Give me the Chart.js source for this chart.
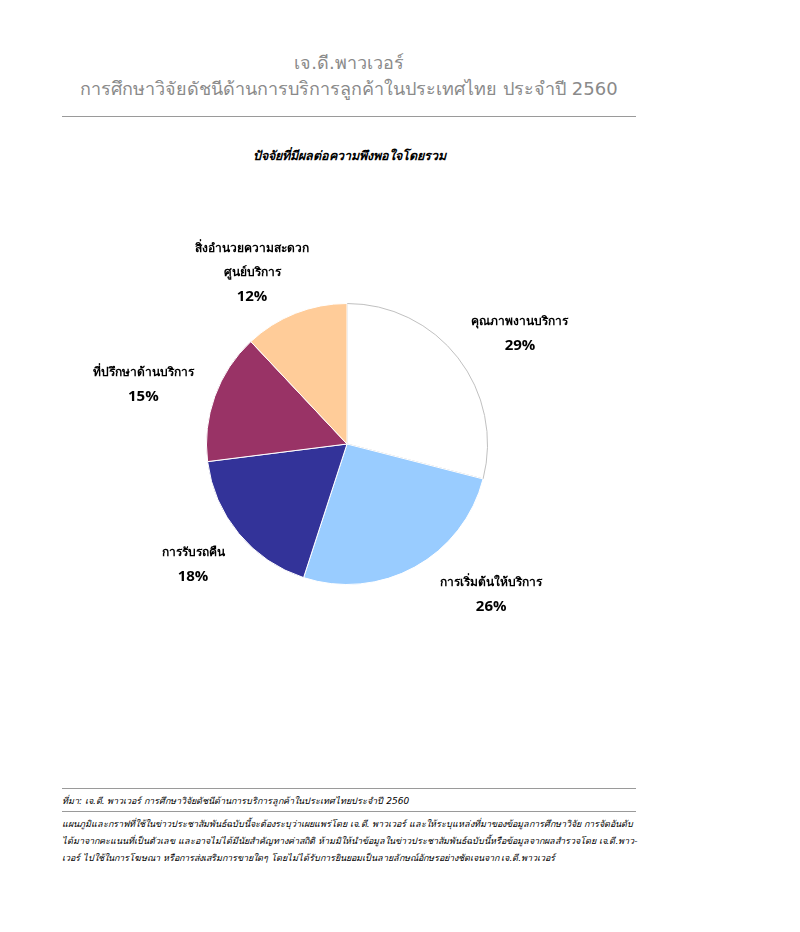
<!DOCTYPE html>
<html>
<head>
<meta charset="utf-8">
<script src="https://cdn.jsdelivr.net/npm/chart.js@4"></script>
<style>
  body { margin: 0; background: #fff; font-family: "DejaVu Sans", "Noto Sans", sans-serif; }
  #page { position: relative; width: 800px; height: 932px; }
  .title { position: absolute; left: 62px; width: 574px; text-align: center; color: #8a8a8a; font-size: 18px; }
  .rule { position: absolute; left: 62px; width: 574px; height: 0; border-top: 1px solid #9a9a9a; }
  #sub { position: absolute; left: 62px; width: 574px; top: 146px; text-align: center; font-size: 12.5px; font-weight: bold; font-style: italic; }
  .note { position: absolute; left: 62px; width: 574px; font-size: 9px; font-style: italic; color: #000; white-space: nowrap; }
  #wrap { position: absolute; left: 0; top: 180px; width: 700px; height: 530px; }
</style>
</head>
<body>
<div id="page">
  <div class="title" style="top:48px">เจ.ดี.พาวเวอร์</div>
  <div class="title" style="top:74px">การศึกษาวิจัยดัชนีด้านการบริการลูกค้าในประเทศไทย ประจำปี 2560</div>
  <div class="rule" style="top:116px"></div>
  <div id="sub">ปัจจัยที่มีผลต่อความพึงพอใจโดยรวม</div>
  <div id="wrap"><canvas id="pieChart"></canvas></div>
  <div class="rule" style="top:788px"></div>
  <div class="note" style="top:794px">ที่มา: เจ.ดี. พาวเวอร์ การศึกษาวิจัยดัชนีด้านการบริการลูกค้าในประเทศไทยประจำปี 2560</div>
  <div class="rule" style="top:811px"></div>
  <div class="note" style="top:817px">แผนภูมิและกราฟที่ใช้ในข่าวประชาสัมพันธ์ฉบับนี้จะต้องระบุว่าเผยแพร่โดย เจ.ดี. พาวเวอร์ และให้ระบุแหล่งที่มาของข้อมูลการศึกษาวิจัย การจัดอันดับ</div>
  <div class="note" style="top:834px">ได้มาจากคะแนนที่เป็นตัวเลข และอาจไม่ได้มีนัยสำคัญทางค่าสถิติ ห้ามมิให้นำข้อมูลในข่าวประชาสัมพันธ์ฉบับนี้หรือข้อมูลจากผลสำรวจโดย เจ.ดี.พาว-</div>
  <div class="note" style="top:851px">เวอร์ ไปใช้ในการโฆษณา หรือการส่งเสริมการขายใดๆ โดยไม่ได้รับการยินยอมเป็นลายลักษณ์อักษรอย่างชัดเจนจาก เจ.ดี.พาวเวอร์</div>
</div>
<script>
// factors (clockwise from top)
const labels = [
    ['คุณภาพงานบริการ'],
    ['การเริ่มต้นให้บริการ'],
    ['การรับรถคืน'],
    ['ที่ปรึกษาด้านบริการ'],
    ['สิ่งอำนวยความสะดวก', 'ศูนย์บริการ']
];
const values = [29, 26, 18, 15, 12];
const colors = ['#ffffff', '#99ccff', '#333399', '#993366', '#ffcc99'];

// small pixel nudges for the label blocks, like excel's best fit
const nudge = [[12, 15], [46, -28], [3, -9], [-12, 10], [-20, 18]];

const outsideLabels = {
    id: 'outsideLabels',
    afterDraw(chart) {
        const ctx = chart.ctx;
        const meta = chart.getDatasetMeta(0);
        ctx.save();
        ctx.textAlign = 'center';
        ctx.textBaseline = 'middle';
        ctx.fillStyle = '#000';
        meta.data.forEach((arc, i) => {
            const mid = (arc.startAngle + arc.endAngle) / 2;
            const r = arc.outerRadius * 1.45;
            const x = arc.x + Math.cos(mid) * r + nudge[i][0];
            const y = arc.y + Math.sin(mid) * r + nudge[i][1];
            const lines = labels[i];
            const n = lines.length + 1;
            let top = y - (n - 1) * 24 / 2;
            ctx.font = 'bold 12px "DejaVu Sans", sans-serif';
            lines.forEach((t, k) => ctx.fillText(t, x, top + k * 24));
            ctx.font = 'bold 15px "Open Sans", sans-serif';
            ctx.fillText(values[i] + '%', x, top + lines.length * 24);
        });
        ctx.restore();
    }
};

const pieChart = document.getElementById('pieChart');

new Chart(pieChart, {
    type: 'pie',
    data: {
        labels: labels.map(l => l.join(' ')),
        datasets: [
            {
                data: values,
                backgroundColor: colors,
                borderColor: ['#c0c0c0', '#ffffff', '#ffffff', '#ffffff', '#ffffff'],
                borderWidth: 1
            }
        ]
    },
    options: {
        responsive: true,
        maintainAspectRatio: false,
        animation: false,
        layout: { padding: { left: 206, right: 212, top: 123, bottom: 125 } },
        plugins: {
            legend: { display: false },
            tooltip: { enabled: false }
        }
    },
    plugins: [outsideLabels]
});
</script>
</body>
</html>
